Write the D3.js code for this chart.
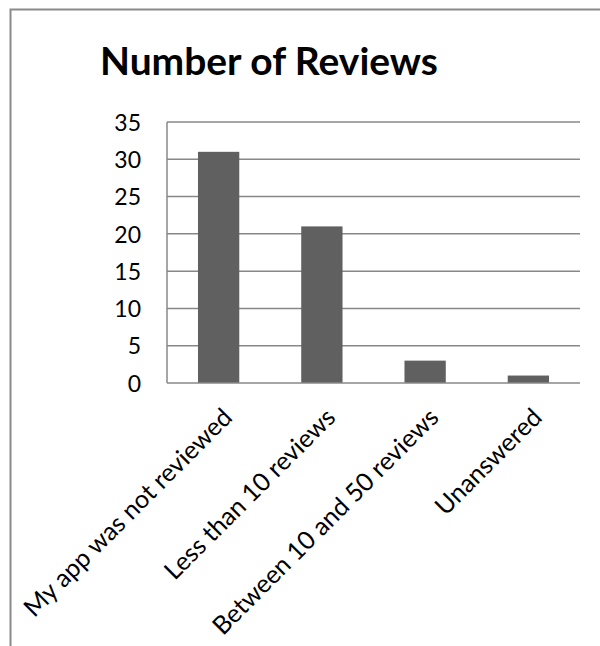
<!DOCTYPE html>
<html>
<head>
<meta charset="utf-8">
<script src="https://cdn.jsdelivr.net/npm/d3@7/dist/d3.min.js"></script>
<style>
  html, body { margin: 0; padding: 0; background: #fff; }
  svg { display: block; }
</style>
</head>
<body>
<svg id="chart" width="600" height="646"></svg>
<script>
const title = "Number of Reviews";
const categories = ["My app was not reviewed", "Less than 10 reviews", "Between 10 and 50 reviews", "Unanswered"];
const values = [31, 21, 3, 1];
const yTicks = [0, 5, 10, 15, 20, 25, 30, 35];

const svg = d3.select("#chart");
const W = 600, H = 646;
const font = "Lato, 'Open Sans', sans-serif";
const plot = { left: 167, right: 580, top: 122, bottom: 383 };
const grey = "#888888";

// outer chart border (cropped on right/bottom)
svg.append("path")
  .attr("d", `M10.5,${H} L10.5,9.5 L${W},9.5`)
  .attr("fill", "none").attr("stroke", "#8a8a8a").attr("stroke-width", 2);

const x = d3.scaleBand().domain(categories).range([plot.left, plot.right])
  .paddingInner(0.6).paddingOuter(0.3);
const y = d3.scaleLinear().domain([0, 35]).range([plot.bottom, plot.top]);

// gridlines
svg.append("g").selectAll("line").data(yTicks.filter(d => d > 0)).join("line")
  .attr("x1", plot.left).attr("x2", plot.right)
  .attr("y1", d => y(d)).attr("y2", d => y(d))
  .attr("stroke", grey).attr("stroke-width", 1.5);

// bars
svg.append("g").selectAll("rect").data(values).join("rect")
  .attr("x", (d, i) => x(categories[i]))
  .attr("width", x.bandwidth())
  .attr("y", d => y(d))
  .attr("height", d => y(0) - y(d))
  .attr("fill", "#606060");

// axes lines
svg.append("line").attr("x1", plot.left).attr("x2", plot.left)
  .attr("y1", plot.top).attr("y2", plot.bottom)
  .attr("stroke", grey).attr("stroke-width", 1.5);
svg.append("line").attr("x1", plot.left).attr("x2", plot.right)
  .attr("y1", plot.bottom).attr("y2", plot.bottom)
  .attr("stroke", grey).attr("stroke-width", 1.5);

// y axis labels via d3 axis
const yAxis = d3.axisLeft(y).tickValues(yTicks).tickSize(0).tickPadding(26);
const yg = svg.append("g").attr("transform", `translate(${plot.left},0)`).call(yAxis);
yg.select(".domain").remove();
yg.selectAll("text").attr("font-family", font).attr("font-size", 23).attr("fill", "#000").attr("dy", "0.36em");

// x labels
const xg = svg.append("g");
const xl = xg.selectAll("text").data(categories).join("text")
  .attr("transform", d => `translate(${x(d) + x.bandwidth() / 2 + 15},${plot.bottom + 36}) rotate(-45)`)
  .attr("text-anchor", "end")
  .attr("font-family", font).attr("font-size", 23).attr("fill", "#000")
  .text(d => d);
// fit font so longest label matches reference length
const l0 = xl.nodes()[0].getComputedTextLength();
const xs = 23 * 282 / l0;
xl.attr("font-size", xs);

// title
const t = svg.append("text").attr("x", 269).attr("y", 75)
  .attr("text-anchor", "middle").attr("font-family", font)
  .attr("font-weight", "bold").attr("font-size", 40).attr("fill", "#000")
  .text(title);
const tl = t.node().getComputedTextLength();
t.attr("font-size", 40 * 338 / tl);
</script>
</body>
</html>
